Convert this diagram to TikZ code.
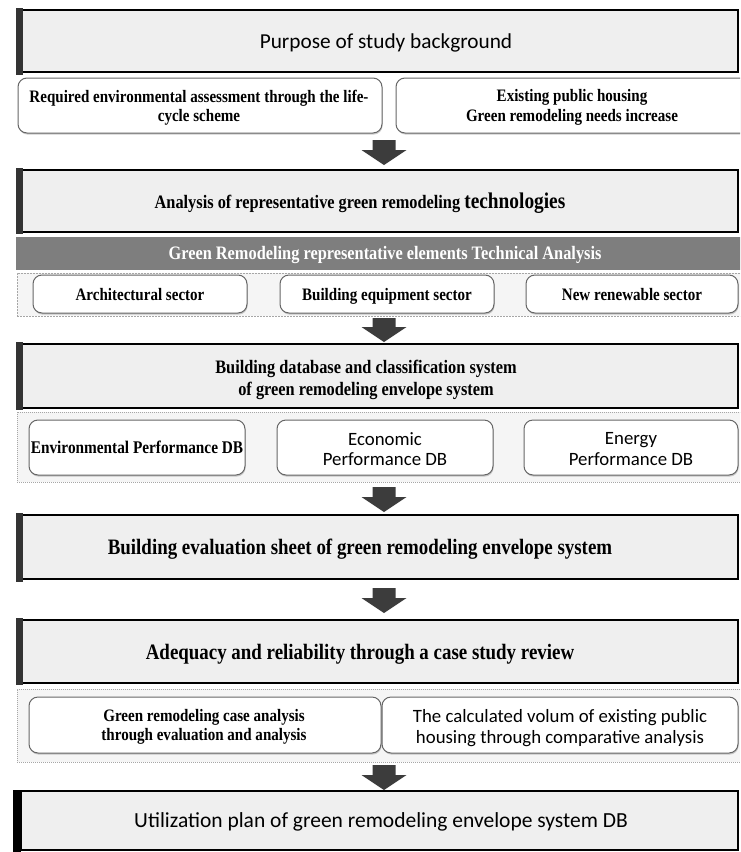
\documentclass[tikz,border=0pt]{standalone}
\usepackage{fontspec}
\setmainfont{Liberation Serif}
\newfontfamily\srf[FakeStretch=0.86]{Liberation Serif}
\newfontfamily\sns{Carlito}
\usetikzlibrary{shadows,calc}
\definecolor{boxfill}{HTML}{EFEFEF}
\definecolor{contfill}{HTML}{F5F5F5}
\definecolor{bandfill}{HTML}{7E7E7E}
\definecolor{arrowc}{HTML}{3C3C3C}
\newcommand\blkarrow[2]{\fill[arrowc] let \p1=(#1), \p2=(#2) in
  (\x1-11.5pt,\y1) -- (\x1+11.5pt,\y1) -- (\x1+11.5pt,\y2+15pt) -- (\x1+22.5pt,\y2+15pt)
  -- (\x1,\y2) -- (\x1-22.5pt,\y2+15pt) -- (\x1-11.5pt,\y2+15pt) -- cycle;}
\begin{document}
\begin{tikzpicture}[x=1pt,y=-1pt,
  mainbox/.style={draw=black,line width=2.2pt,fill=boxfill,inner sep=0pt,outer sep=0pt},
  leftbar/.style={fill=black!80},
  subbox/.style={draw=black!60,line width=1pt,fill=white,rounded corners=9pt,
    drop shadow={opacity=0.4,shadow xshift=0.6pt,shadow yshift=-1.6pt},inner sep=0pt,outer sep=0pt},
  container/.style={draw=black!35,dashed,dash pattern=on 2pt off 1pt,line width=0.7pt,fill=contfill},
  sertxt/.style={font=\srf\bfseries\fontsize{17.5}{19.5}\selectfont,align=center,inner sep=0pt},
  santxt/.style={font=\sns\fontsize{18.8}{20.5}\selectfont,align=center,inner sep=0pt},
  oneline/.style={text height=0.9em,text depth=0.24em},
]
\clip (0,0) rectangle (740,852);
\fill[white] (0,0) rectangle (740,852);

% ---- 1 Purpose
\node[mainbox,minimum width=716pt,minimum height=62pt] (purpose) at (380,41) {};
\fill[leftbar] (16,8) rectangle (23,75);
\node[santxt,oneline,font=\sns\fontsize{21.3}{23}\selectfont] (purposet) at (386,45) {Purpose of study background};

\node[subbox,minimum width=364pt,minimum height=55pt] (req) at (200,105.5) {};
\node[sertxt] (reqt) at (199,107.5) {Required environmental assessment through the life-\\cycle scheme};
\node[subbox,minimum width=360pt,minimum height=55pt] (exist) at (576,105.5) {};
\node[sertxt] (existt) at (572,107.5) {Existing public housing\\Green remodeling needs increase};

\coordinate (ar1a) at (384,140);
\coordinate (ar1b) at (384,165);
\blkarrow{ar1a}{ar1b}

% ---- 2 Analysis
\node[mainbox,minimum width=716pt,minimum height=62pt] (analysis) at (380,201) {};
\fill[leftbar] (16,168) rectangle (23,234);
\node[sertxt,oneline,font=\srf\bfseries\fontsize{19}{21}\selectfont] (analysist) at (360,205)
  {Analysis of representative green remodeling {\fontsize{22.5}{24}\selectfont technologies}};

\node[fill=bandfill,minimum width=730pt,minimum height=33pt,inner sep=0pt] (band) at (381,253.5) {};
\node[sertxt,oneline,text=white,font=\srf\bfseries\fontsize{19}{21}\selectfont] (bandt) at (385,256.5)
  {Green Remodeling representative elements Technical Analysis};

\node[container,minimum width=730pt,minimum height=43pt,inner sep=0pt] (sectors) at (382,294.5) {};
\node[subbox,minimum width=214pt,minimum height=38pt] (arch) at (140,294) {};
\node[sertxt,oneline] (archt) at (140,297) {Architectural sector};
\node[subbox,minimum width=214pt,minimum height=38pt] (equip) at (387,294) {};
\node[sertxt,oneline] (equipt) at (387,297) {Building equipment sector};
\node[subbox,minimum width=212pt,minimum height=38pt] (renew) at (632,294) {};
\node[sertxt,oneline] (renewt) at (632,297) {New renewable sector};

\coordinate (ar2a) at (384,318);
\coordinate (ar2b) at (384,342);
\blkarrow{ar2a}{ar2b}

% ---- 3 Database
\node[mainbox,minimum width=716pt,minimum height=64pt] (database) at (380,376) {};
\fill[leftbar] (16,342) rectangle (23,410);
\node[sertxt,font=\srf\bfseries\fontsize{19}{21.5}\selectfont] (databaset) at (366,380)
  {Building database and classification system\\of green remodeling envelope system};

\node[container,minimum width=730pt,minimum height=70pt,inner sep=0pt,dash pattern=on 1pt off 1pt] (dbrow) at (382,447) {};
\node[subbox,minimum width=216pt,minimum height=55pt] (envdb) at (137,447.5) {};
\node[sertxt,oneline,font=\srf\bfseries\fontsize{17.8}{19}\selectfont] (envdbt) at (137,450.5) {Environmental Performance DB};
\node[subbox,minimum width=216pt,minimum height=55pt] (ecodb) at (385,447.5) {};
\node[santxt] (ecodbt) at (385,449) {Economic\\Performance DB};
\node[subbox,minimum width=214pt,minimum height=55pt] (enedb) at (631,447.5) {};
\node[santxt] (enedbt) at (631,449) {Energy\\Performance DB};

\coordinate (ar3a) at (384,487);
\coordinate (ar3b) at (384,512);
\blkarrow{ar3a}{ar3b}

% ---- 4 Evaluation
\node[mainbox,minimum width=716pt,minimum height=64pt] (evaluation) at (380,547) {};
\fill[leftbar] (16,513) rectangle (23,582);
\node[sertxt,oneline,font=\srf\bfseries\fontsize{22}{24}\selectfont] (evaluationt) at (360,551)
  {Building evaluation sheet of green remodeling envelope system};

\coordinate (ar4a) at (384,588);
\coordinate (ar4b) at (384,613);
\blkarrow{ar4a}{ar4b}

% ---- 5 Adequacy
\node[mainbox,minimum width=716pt,minimum height=63pt] (adequacy) at (380,651.5) {};
\fill[leftbar] (16,618) rectangle (23,685);
\node[sertxt,oneline,font=\srf\bfseries\fontsize{22}{24}\selectfont] (adequacyt) at (360,656)
  {Adequacy and reliability through a case study review};

\node[container,minimum width=730pt,minimum height=73pt,inner sep=0pt,dash pattern=on 1pt off 1pt] (caserow) at (382,725.5) {};
\node[subbox,minimum width=352pt,minimum height=56pt] (casean) at (205,725) {};
\node[sertxt] (caseant) at (204,727) {Green remodeling case analysis\\through evaluation and analysis};
\node[subbox,minimum width=356pt,minimum height=56pt] (calcvol) at (560,725) {};
\node[santxt] (calcvolt) at (560,728) {The calculated volum of existing public\\housing through comparative analysis};

\coordinate (ar5a) at (384,765);
\coordinate (ar5b) at (384,790);
\blkarrow{ar5a}{ar5b}

% ---- 6 Utilization
\node[mainbox,minimum width=717pt,minimum height=59pt] (util) at (379.5,820.5) {};
\fill[black] (13,790) rectangle (21,852);
\node[santxt,oneline,font=\sns\fontsize{21.5}{23}\selectfont] (utilt) at (381,824.5)
  {Utilization plan of green remodeling envelope system DB};
\end{tikzpicture}
\end{document}
